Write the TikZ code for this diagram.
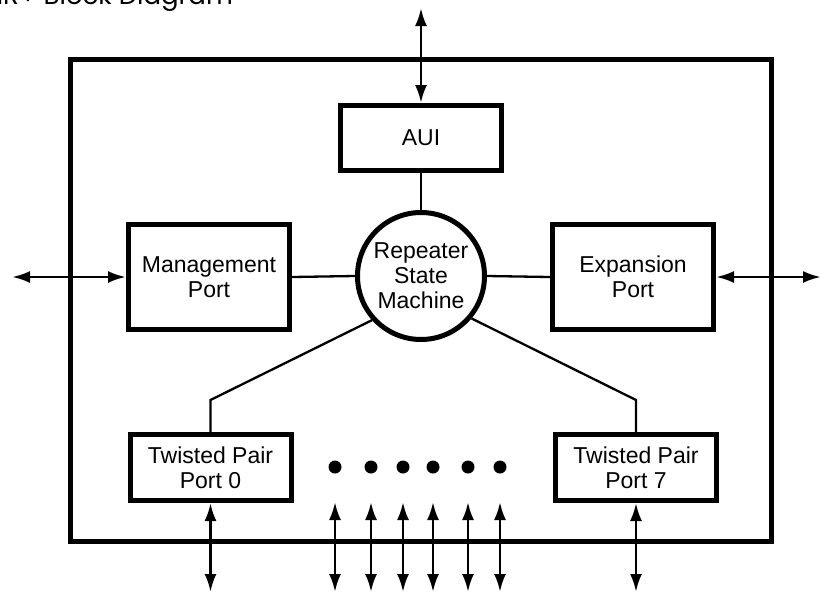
\documentclass[tikz,border=0pt]{standalone}
\usepackage{fontspec}
\setmainfont{Liberation Sans}
\newfontfamily\titlefont{Poppins}
\usetikzlibrary{arrows.meta}
\begin{document}
\begin{tikzpicture}[x=1pt,y=-1pt,
  labelfont/.style={font=\fontsize{23}{25}\selectfont},
  blk/.style={draw,line width=5pt,minimum width=161pt,align=center,inner sep=0pt,labelfont},
  link/.style={line width=2.3pt},
  io/.style={line width=2.8pt,{Latex[length=18pt,width=12pt]}-{Latex[length=18pt,width=12pt]}},
  dotmark/.style={circle,fill,inner sep=0pt,minimum size=13pt}]
\useasboundingbox (0,0) rectangle (823,595);

% title line
\node[anchor=base east,inner sep=0pt,font=\titlefont\fontsize{26}{30}\selectfont] (title) at (233,4) {IMR+ Block Diagram};

% chip outline
\node[draw,line width=5pt,minimum width=701pt,minimum height=482pt,inner sep=0pt] (chip) at (421,300.5) {};

% functional blocks
\node[blk,minimum height=65pt] (aui) at (421,138) {AUI};
\node[blk,minimum height=105pt] (mgmt) at (209,277) {Management\\Port};
\node[blk,minimum height=105pt] (exp) at (633,277) {Expansion\\Port};
\node[circle,draw,line width=5pt,minimum size=127pt,inner sep=0pt,align=center,labelfont] (rsm) at (421,276) {Repeater\\State\\Machine};
\node[blk,minimum height=66pt] (tp0) at (210.5,467.5) {Twisted Pair\\Port 0};
\node[blk,minimum height=66pt] (tp7) at (636,467.5) {Twisted Pair\\Port 7};

% external pin ends
\coordinate (auiext) at (421,8);
\coordinate (mgmtext) at (12,277);
\coordinate (expext) at (821,277);
\coordinate (tp0ext) at (210.5,592);
\coordinate (tp7ext) at (636,592);

% internal links
\draw[link] (aui.south) -- (rsm.north);
\draw[link] (mgmt.east) -- (rsm.west);
\draw[link] (exp.west) -- (rsm.east);
\draw[link] (tp0.north) -- ++(0,-32) -- (rsm.222);
\draw[link] (tp7.north) -- ++(0,-32) -- (rsm.320);

% external I/O
\draw[io] (auiext) -- (aui.north);
\draw[io] (mgmtext) -- (mgmt.west);
\draw[io] (exp.east) -- (expext);
\draw[io] (tp0.south) -- (tp0ext);
\draw[io] (tp7.south) -- (tp7ext);

% ports 1 to 6
\foreach \i/\x in {1/335,2/371,3/403,4/433,5/468,6/500} {
  \node[dotmark] (dot\i) at (\x,467) {};
  \coordinate (pin\i a) at (\x,502);
  \coordinate (pin\i b) at (\x,592);
  \draw[io] (pin\i a) -- (pin\i b);
}
\end{tikzpicture}
\end{document}
